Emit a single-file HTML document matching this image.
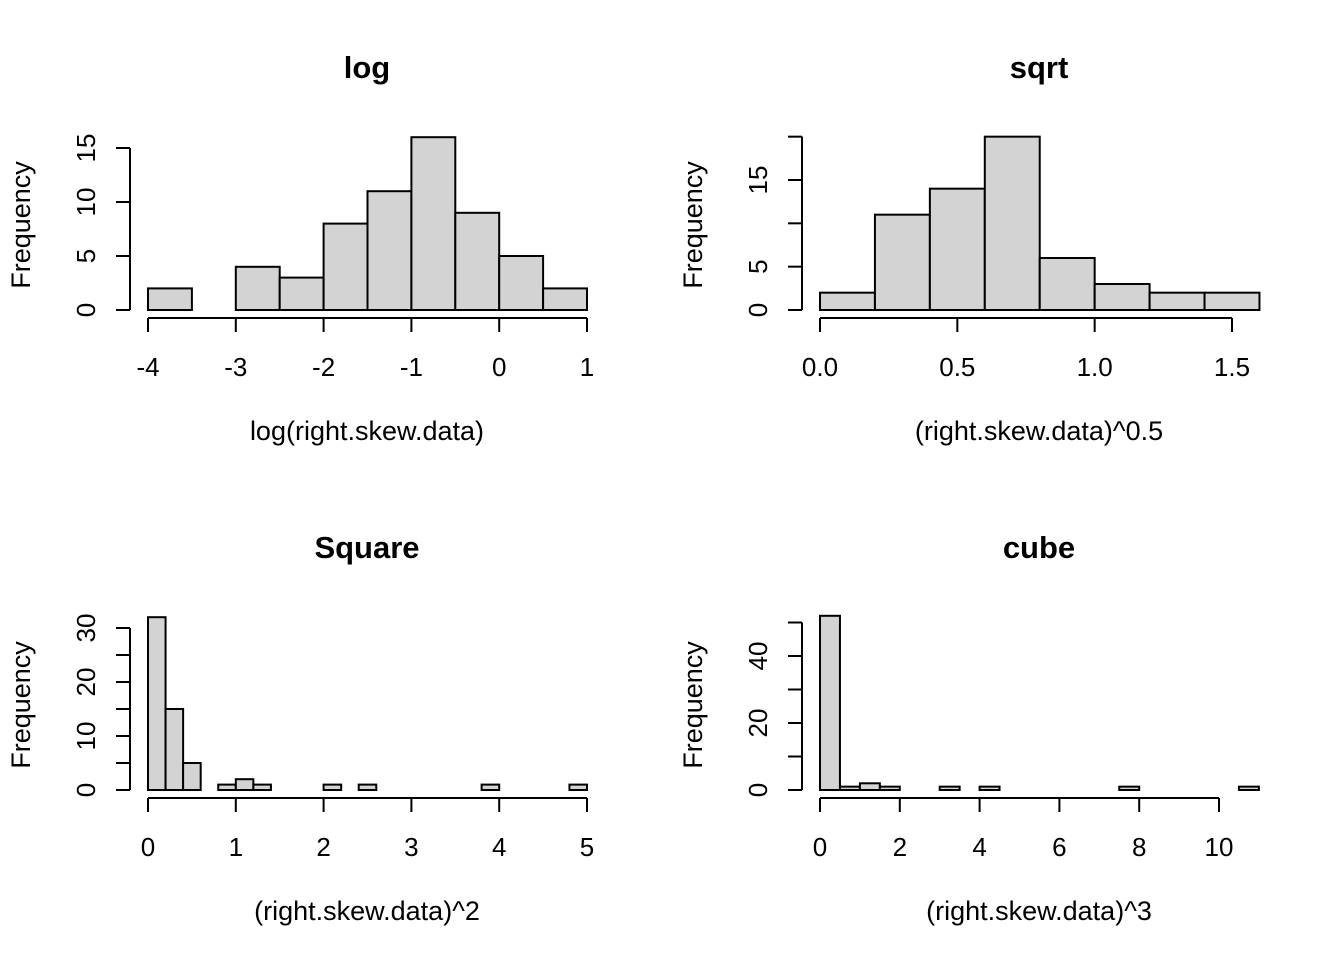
<!DOCTYPE html>
<html><head><meta charset="utf-8"><style>
body{margin:0;background:#fff}
svg{display:block;font-family:"Liberation Sans",Arial,sans-serif}
</style></head><body>
<svg id="c" width="1344" height="960"></svg>
<script>
const logBreaks=[-4,-3.5,-3,-2.5,-2,-1.5,-1,-0.5,0,0.5,1];
const logCounts=[2,0,4,3,8,11,16,9,5,2];
const sqrtBreaks=[0,0.2,0.4,0.6,0.8,1.0,1.2,1.4,1.6];
const sqrtCounts=[2,11,14,20,6,3,2,2];
const squareCounts=[32,15,5,0,1,2,1,0,0,0,1,0,1,0,0,0,0,0,0,1,0,0,0,0,1];
const cubeCounts=[52,1,2,1,0,0,1,0,1,0,0,0,0,0,0,1,0,0,0,0,0,1];
const logXTicks=[-4,-3,-2,-1,0,1], logXLabels=["-4","-3","-2","-1","0","1"];
const sqrtXTicks=[0,0.5,1,1.5], sqrtXLabels=["0.0","0.5","1.0","1.5"];
const squareXTicks=[0,1,2,3,4,5], squareXLabels=["0","1","2","3","4","5"];
const cubeXTicks=[0,2,4,6,8,10], cubeXLabels=["0","2","4","6","8","10"];
const logYTicks=[0,5,10,15], logYLabels=["0","5","10","15"];
const sqrtYTicks=[0,5,10,15,20], sqrtYLabels=["0","5","","15",""];
const squareYTicks=[0,5,10,15,20,25,30], squareYLabels=["0","","10","","20","","30"];
const cubeYTicks=[0,10,20,30,40,50], cubeYLabels=["0","","20","","40",""];
const squareBreaks=squareCounts.map((_,i)=>i*0.2).concat([squareCounts.length*0.2]);
const cubeBreaks=cubeCounts.map((_,i)=>i*0.5).concat([cubeCounts.length*0.5]);

const svg=document.getElementById('c');const NS='http://www.w3.org/2000/svg';
function mk(t,a,p){const e=document.createElementNS(NS,t);for(const k in a)e.setAttribute(k,a[k]);(p||svg).appendChild(e);return e;}
function panel(o){
  const g=mk('g',{});
  
  
  const sx=v=>o.x0+(v-o.xa)/(o.xb-o.xa)*(o.x1-o.x0);
  const sy=v=>o.y0-(v-o.ya)/(o.yb-o.ya)*(o.y0-o.y1);
  o.counts.forEach((c,i)=>{
    const r=mk('rect',{x:sx(o.breaks[i]),y:sy(c),width:sx(o.breaks[i+1])-sx(o.breaks[i]),height:sy(0)-sy(c),fill:'#d3d3d3',stroke:'#000','stroke-width':2},g);
    
    
  });
  const ax=mk('g',{},g);
  
  
  const ay=o.y0+8;
  mk('line',{x1:sx(o.xt[0]),x2:sx(o.xt[o.xt.length-1]),y1:ay,y2:ay,stroke:'#000','stroke-width':2},ax);
  o.xt.forEach((v,i)=>{mk('line',{x1:sx(v),x2:sx(v),y1:ay,y2:ay+14,stroke:'#000','stroke-width':2},ax);
    const t=mk('text',{x:sx(v),y:ay+58,'font-size':26,'text-anchor':'middle'},ax);t.textContent=o.xl[i];});
  const yx=o.x0-18;
  const yax=mk('g',{},g);
  
  
  mk('line',{x1:yx,x2:yx,y1:sy(o.yt[0]),y2:sy(o.yt[o.yt.length-1]),stroke:'#000','stroke-width':2},yax);
  o.yt.forEach((v,i)=>{mk('line',{x1:yx,x2:yx-14,y1:sy(v),y2:sy(v),stroke:'#000','stroke-width':2},yax);
    if(o.yl[i]){const t=mk('text',{x:0,y:0,'font-size':26,'text-anchor':'middle',transform:`translate(${yx-35},${sy(v)}) rotate(-90)`},yax);t.textContent=o.yl[i];}});
  const ti=mk('text',{x:o.cx,y:o.ty,'font-size':31,'font-weight':'bold','text-anchor':'middle'},g);ti.textContent=o.title;
  
  const xl=mk('text',{x:o.cx,y:o.ty+362,'font-size':27,'text-anchor':'middle'},g);xl.textContent=o.xlab;
  
  const yl=mk('text',{x:0,y:0,'font-size':27,'text-anchor':'middle',transform:`translate(${yx-100},${o.ty+147}) rotate(-90)`},g);yl.textContent='Frequency';
  
}
panel({name:'log',breaks:logBreaks,counts:logCounts,xt:logXTicks,xl:logXLabels,yt:logYTicks,yl:logYLabels,
  xa:-4,xb:1,x0:148,x1:587,ya:0,yb:15,y0:310,y1:148,cx:367,ty:78,title:'log',xlab:'log(right.skew.data)'});
panel({name:'sqrt',breaks:sqrtBreaks,counts:sqrtCounts,xt:sqrtXTicks,xl:sqrtXLabels,yt:sqrtYTicks,yl:sqrtYLabels,
  xa:0,xb:1.5,x0:820,x1:1232,ya:0,yb:15,y0:310,y1:180,cx:1039,ty:78,title:'sqrt',xlab:'(right.skew.data)^0.5'});
panel({name:'square',breaks:squareBreaks,counts:squareCounts,xt:squareXTicks,xl:squareXLabels,yt:squareYTicks,yl:squareYLabels,
  xa:0,xb:5,x0:148,x1:587,ya:0,yb:30,y0:790,y1:628,cx:367,ty:558,title:'Square',xlab:'(right.skew.data)^2'});
panel({name:'cube',breaks:cubeBreaks,counts:cubeCounts,xt:cubeXTicks,xl:cubeXLabels,yt:cubeYTicks,yl:cubeYLabels,
  xa:0,xb:10,x0:820,x1:1219,ya:0,yb:40,y0:790,y1:656,cx:1039,ty:558,title:'cube',xlab:'(right.skew.data)^3'});
</script>
</body></html>
